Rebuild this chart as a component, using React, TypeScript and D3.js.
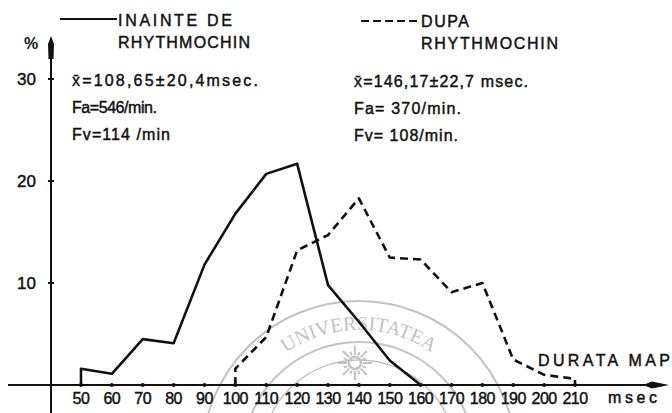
import React from "react";
import * as d3 from "d3";

const W = 672;
const H = 413;

// msec classes
const X_TICKS = [50, 60, 70, 80, 90, 100, 110, 120, 130, 140, 150, 160, 170, 180, 190, 200, 210];
const Y_TICKS = [10, 20, 30];

// "INAINTE DE RHYTHMOCHIN" (solid)
const BEFORE_X = [50, 50, 60, 70, 80, 90, 100, 110, 120, 130, 140, 150, 160];
const BEFORE_Y = [0, 1.6, 1.1, 4.5, 4.1, 11.8, 16.8, 20.7, 21.7, 9.8, 6.2, 2.4, 0];

// "DUPA RHYTHMOCHIN" (dashed)
const AFTER_X = [100, 100, 110, 120, 130, 140, 150, 160, 170, 180, 190, 200, 210, 210];
const AFTER_Y = [0, 1.6, 4.7, 13.2, 14.7, 18.3, 12.5, 12.3, 9.1, 10.0, 2.5, 1.0, 0.6, 0];

const BEFORE_STATS = ["x\u0304=108,65\u00b120,4msec.", "Fa=546/min.", "Fv=114 /min"];
const AFTER_STATS = ["x\u0304=146,17\u00b122,7 msec.", "Fa= 370/min.", "Fv= 108/min."];

const INK = "#111";
const FONT = "'Liberation Sans', Arial, sans-serif";
const SEAL = "#c2c2c2";

const App = () => {
  const x = d3.scaleLinear().domain([50, 210]).range([81, 575]);
  const y = d3.scaleLinear().domain([0, 30]).range([385, 79]);

  const line = d3
    .line<[number, number]>()
    .x((d) => x(d[0]))
    .y((d) => y(d[1]));

  const before = BEFORE_X.map((v, i) => [v, BEFORE_Y[i]] as [number, number]);
  const after = AFTER_X.map((v, i) => [v, AFTER_Y[i]] as [number, number]);

  const y0 = y(0);
  const axisX = 51;

  // faint watermark seal
  const sealCx = x(140);
  const sealCy = y0 + 73;
  const arcR = 128;
  const arcPath = `M ${sealCx - arcR} ${sealCy} A ${arcR} ${arcR} 0 0 1 ${sealCx + arcR} ${sealCy}`;
  const sunCx = sealCx - 4;
  const sunCy = y0 - 22;
  const rays = d3.range(16).map((i) => (i * Math.PI * 2) / 16);

  const txt = { fill: INK, stroke: INK, strokeWidth: 0.45 };

  return (
    <svg
      width={W}
      height={H}
      style={{ position: "absolute", left: 0, top: 0, background: "#fff" }}
      fontFamily={FONT}
    >
      <rect width={W} height={H} fill="#fff" />

      {/* watermark */}
      <g stroke={SEAL} fill="none" strokeWidth={2}>
        <circle cx={sealCx} cy={sealCy} r={98} strokeWidth={1.5} />
        <circle cx={sealCx} cy={sealCy} r={116} />
        <circle cx={sealCx} cy={sealCy} r={157} />
        <circle cx={sunCx} cy={sunCy} r={6} strokeWidth={2.5} />
        {rays.map((a, i) => (
          <line
            key={i}
            x1={sunCx + Math.cos(a) * 8}
            y1={sunCy + Math.sin(a) * 8}
            x2={sunCx + Math.cos(a) * (i % 2 ? 12 : 17)}
            y2={sunCy + Math.sin(a) * (i % 2 ? 12 : 17)}
            strokeWidth={2}
          />
        ))}
      </g>
      <defs>
        <path id="sealArc" d={arcPath} />
      </defs>
      <text fontFamily="'Liberation Serif', serif" fontSize={20} fill={SEAL}>
        <textPath href="#sealArc" startOffset="50%" textAnchor="middle">
          UNIVERSITATEA
        </textPath>
      </text>

      {/* axes */}
      <line x1={8} x2={660} y1={y0} y2={y0} stroke={INK} strokeWidth={2} />
      <path
        d={`M 669 ${y0} L 652 ${y0 - 3.5} L 643 ${y0} L 652 ${y0 + 3.5} Z`}
        fill={INK}
      />
      <line x1={axisX} x2={axisX} y1={50} y2={H} stroke={INK} strokeWidth={2} />
      <path
        d={`M ${axisX} 36 L ${axisX + 3} 44 L ${axisX + 2.5} 59 L ${axisX - 2.5} 59 L ${axisX - 3} 44 Z`}
        fill={INK}
      />

      {Y_TICKS.map((t) => (
        <g key={t}>
          <line x1={axisX - 3} x2={axisX + 3} y1={y(t)} y2={y(t)} stroke={INK} strokeWidth={2} />
          <text x={36} y={y(t) + 6} textAnchor="end" fontSize={17} {...txt}>
            {t}
          </text>
        </g>
      ))}
      <text x={24} y={49} fontSize={16} fontWeight="bold" fill={INK}>
        %
      </text>

      {X_TICKS.map((t) => (
        <g key={t}>
          <circle cx={x(t)} cy={y0} r={2} fill={INK} />
          <text
            x={x(t)}
            y={y0 + 19}
            textAnchor="middle"
            fontSize={16}
            letterSpacing={-0.5}
            {...txt}
          >
            {t}
          </text>
        </g>
      ))}
      <text x={608} y={y0 + 18} fontSize={16} textLength={49} lengthAdjust="spacing" {...txt}>
        msec
      </text>
      <text x={538} y={y0 - 19} fontSize={16} textLength={132} lengthAdjust="spacing" {...txt}>
        DURATA  MAP
      </text>

      {/* series */}
      <path d={line(before) ?? ""} fill="none" stroke={INK} strokeWidth={2.6} strokeLinejoin="round" />
      <path
        d={line(after) ?? ""}
        fill="none"
        stroke={INK}
        strokeWidth={2.6}
        strokeDasharray="8,5"
        strokeLinejoin="round"
      />

      {/* legend + stats, before */}
      <line x1={60} x2={117} y1={19} y2={19} stroke={INK} strokeWidth={2} />
      <text x={118} y={26} fontSize={16} textLength={114} lengthAdjust="spacing" {...txt}>
        INAINTE  DE
      </text>
      <text x={118} y={48} fontSize={16} textLength={132} lengthAdjust="spacing" {...txt}>
        RHYTHMOCHIN
      </text>
      {BEFORE_STATS.map((s, i) => (
        <text
          key={s}
          x={72}
          y={86 + i * 27}
          fontSize={16}
          textLength={[186, 85, 98][i]}
          lengthAdjust="spacing"
          {...txt}
        >
          {s}
        </text>
      ))}

      {/* legend + stats, after */}
      <line x1={361} x2={419} y1={21} y2={21} stroke={INK} strokeWidth={2} strokeDasharray="8,4" />
      <text x={421} y={27} fontSize={16} textLength={48} lengthAdjust="spacing" {...txt}>
        DUPA
      </text>
      <text x={421} y={49} fontSize={16} textLength={137} lengthAdjust="spacing" {...txt}>
        RHYTHMOCHIN
      </text>
      {AFTER_STATS.map((s, i) => (
        <text
          key={s}
          x={354}
          y={87 + i * 27}
          fontSize={16}
          textLength={[174, 107, 104][i]}
          lengthAdjust="spacing"
          {...txt}
        >
          {s}
        </text>
      ))}
    </svg>
  );
};

export default App;
